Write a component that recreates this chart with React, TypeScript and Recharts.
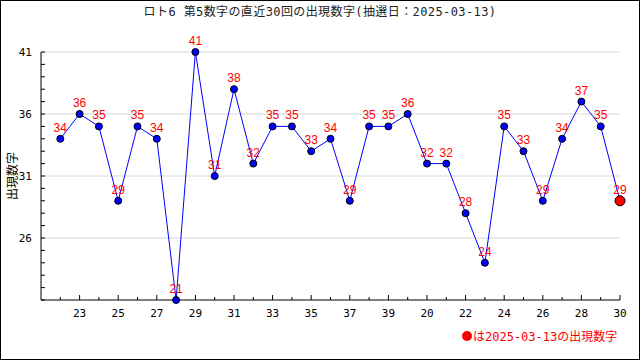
import { LineChart, Line, XAxis, YAxis, LabelList, ReferenceLine } from "recharts";

const TITLE = "ロト6 第5数字の直近30回の出現数字(抽選日：2025-03-13)";
const DRAW_LABELS = [
  "22", "23", "24", "25", "26", "27", "28", "29", "30", "31",
  "32", "33", "34", "35", "36", "37", "38", "39", "19", "20",
  "21", "22", "23", "24", "25", "26", "27", "28", "29", "30",
];
const NUMBERS = [
  34, 36, 35, 29, 35, 34, 21, 41, 31, 38,
  32, 35, 35, 33, 34, 29, 35, 35, 36, 32,
  32, 28, 24, 35, 33, 29, 34, 37, 35, 29,
];
const Y_LABELS = [26, 31, 36, 41];
const LEGEND_TEXT = "は2025-03-13の出現数字";

const data = NUMBERS.map((v, i) => ({ idx: i + 1, label: DRAW_LABELS[i], v }));
const xTicks = data.map((d) => d.idx);
const yTicks = Array.from({ length: 21 }, (_, i) => 21 + i);

const FONT = "'DejaVu Sans Mono', 'Noto Sans CJK JP', monospace";
const LABEL_FONT = "'Liberation Sans', 'DejaVu Sans', sans-serif";

function XTick({ x, y, payload }: any) {
  const i = payload.value;
  const major = i % 2 === 0;
  return (
    <g>
      <line x1={x} x2={x} y1={y} y2={y - (major ? 5 : 3)} stroke="#000" />
      {major && (
        <text x={x} y={y + 17} textAnchor="middle" fontSize={11} fill="#000" fontFamily={FONT}>
          {DRAW_LABELS[i - 1]}
        </text>
      )}
    </g>
  );
}

function YTick({ x, y, payload }: any) {
  const major = Y_LABELS.includes(payload.value);
  return (
    <g>
      <line x1={x} x2={x + 4} y1={y} y2={y} stroke="#000" />
      {major && (
        <text x={x - 9} y={y + 4} textAnchor="end" fontSize={11} fill="#000" fontFamily={FONT}>
          {payload.value}
        </text>
      )}
    </g>
  );
}

function YTitle({ viewBox }: any) {
  const cy = viewBox.y + viewBox.height / 2;
  return (
    <text
      x={0}
      y={0}
      transform={`translate(17, ${cy}) rotate(-90)`}
      textAnchor="middle"
      fontSize={12}
      fill="#000"
      fontFamily="'Noto Sans CJK JP', sans-serif"
    >
      出現数字
    </text>
  );
}

function Dot({ cx, cy, index }: any) {
  if (cx == null || cy == null) return null;
  const last = index === data.length - 1;
  return (
    <circle
      key={`d-${index}`}
      cx={cx}
      cy={cy}
      r={last ? 5 : 3.5}
      fill={last ? "#ff0000" : "#0000ff"}
      stroke="#000"
      strokeWidth={1}
    />
  );
}

export default function App() {
  return (
    <div
      style={{
        position: "absolute",
        left: 0,
        top: 0,
        width: 640,
        height: 360,
        border: "1px solid #000",
        boxSizing: "border-box",
        background: "#fff",
        fontFamily: FONT,
      }}
    >
      <div
        style={{
          position: "absolute",
          top: 1,
          left: 0,
          width: 638,
          textAlign: "center",
          fontSize: 12,
          letterSpacing: 0.4,
          color: "#222",
        }}
      >
        {TITLE}
      </div>
      <div style={{ position: "absolute", left: -1, top: -1 }}>
        <LineChart width={640} height={360} data={data} margin={{ top: 52, right: 20, bottom: 0, left: 0 }}>
          {Y_LABELS.map((v) => (
            <ReferenceLine key={v} y={v} stroke="#d8d8d8" strokeWidth={1} />
          ))}
          <XAxis
            dataKey="idx"
            type="number"
            domain={[0, 30]}
            ticks={xTicks}
            interval={0}
            tickSize={0}
            tickMargin={0}
            tickLine={false}
            tick={<XTick />}
            axisLine={{ stroke: "#000" }}
            height={60}
          />
          <YAxis
            type="number"
            domain={[21, 41]}
            ticks={yTicks}
            interval={0}
            tickSize={0}
            tickMargin={0}
            tickLine={false}
            tick={<YTick />}
            axisLine={{ stroke: "#000" }}
            width={41}
            label={<YTitle />}
          />
          <Line
            dataKey="v"
            stroke="#0000ff"
            strokeWidth={1}
            dot={(p: any) => <Dot {...p} />}
            activeDot={false}
            isAnimationActive={false}
          >
            <LabelList dataKey="v" position="top" offset={7} fill="#ff0000" fontSize={12} fontFamily={LABEL_FONT} />
          </Line>
        </LineChart>
      </div>
      <div
        style={{
          position: "absolute",
          left: 461,
          top: 326,
          fontSize: 12,
          color: "#ff0000",
          display: "flex",
          alignItems: "center",
          whiteSpace: "nowrap",
        }}
      >
        <span
          style={{
            display: "inline-block",
            width: 10,
            height: 10,
            borderRadius: 5,
            background: "#ff0000",
            marginRight: 1,
          }}
        />
        {LEGEND_TEXT}
      </div>
    </div>
  );
}
